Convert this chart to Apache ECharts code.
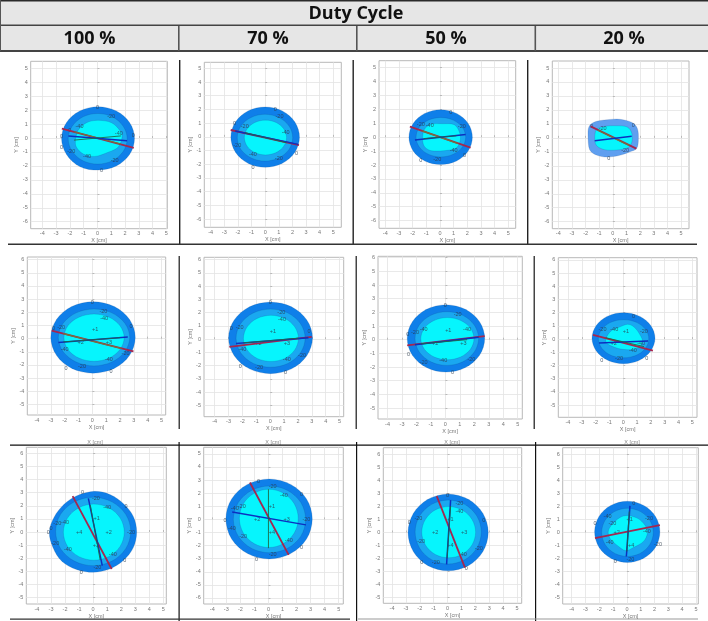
<!DOCTYPE html>
<html>
<head>
<meta charset="utf-8">
<style>
  html, body { margin: 0; padding: 0; background: #fff; }
  #main { width: 708px; height: 621px; filter: blur(0.45px); }
</style>
<script src="https://cdn.jsdelivr.net/npm/echarts@6/dist/echarts.min.js"></script>
</head>
<body>
<div id="main"></div>
<script>
const titleText = 'Duty Cycle'
const dutyLabels = ['100 %', '70 %', '50 %', '20 %']
const xTicks = [-4, -3, -2, -1, 0, 1, 2, 3, 4, 5]
const yTicksTop = [-6, -5, -4, -3, -2, -1, 0, 1, 2, 3, 4, 5]
const yTicksLow = [-5, -4, -3, -2, -1, 0, 1, 2, 3, 4, 5, 6]

// row 1
const p1Outer = [[2.69,-0.03],[2.34,1.1],[1.37,1.94],[0.05,2.24],[-1.28,1.94],[-2.25,1.1],[-2.6,-0.03],[-2.25,-1.17],[-1.28,-2.05],[0.05,-2.3],[1.37,-2],[2.34,-1.17]]
const p1Mid = [[2.16,-0.06],[1.87,0.85],[1.09,1.52],[0.02,1.76],[-1.05,1.52],[-1.83,0.85],[-2.12,-0.06],[-1.83,-0.96],[-1.05,-1.63],[0.02,-1.87],[1.09,-1.63],[1.87,-0.96]]
const p1Inner = [[-1.59,-0.17],[-1.4,0.55],[-0.79,1.1],[0.05,1.27],[1.02,1.1],[1.62,0.55],[1.79,0.07],[1.5,-0.66],[0.78,-1.02],[-0.19,-1.32],[-1.03,-1.14],[-1.52,-0.66]]
const p1Red = [[-2.58,0.67],[2.64,-0.7]]
const p1Blue = [[-2.1,0.15],[2.15,-0.2]]
const p1Green = [[-1.7,-0.15],[1.7,0.15]]
const p1Olive = [[-1.7,0.45],[1.7,-0.43]]
const p1Labels = [[0,2.2,'0'],[2.6,0.2,'0'],[-2.6,0.1,'0'],[-2.6,-0.7,'0'],[0.3,-2.3,'0'],[1,1.55,'-20'],[-1.3,0.8,'-40'],[1.55,0.35,'-40'],[-1.9,-1,'-20'],[-0.75,-1.35,'-40'],[1.25,-1.6,'-20'],[-2,0.55,'0']]

const p2Outer = [[2.52,-0.02],[2.18,1.08],[1.26,1.89],[0,2.18],[-1.26,1.89],[-2.18,1.08],[-2.52,-0.02],[-2.18,-1.12],[-1.26,-1.93],[0,-2.22],[1.26,-1.93],[2.18,-1.12]]
const p2Mid = [[2.02,-0.06],[1.75,0.8],[1,1.42],[-0.02,1.65],[-1.03,1.42],[-1.78,0.8],[-2.05,-0.06],[-1.78,-0.92],[-1.03,-1.54],[-0.02,-1.77],[1,-1.54],[1.75,-0.92]]
const p2Inner = [[1.57,-0.05],[1.36,0.59],[0.8,1.05],[0.02,1.22],[-0.76,1.05],[-1.32,0.59],[-1.53,-0.05],[-1.32,-0.69],[-0.76,-1.15],[0.02,-1.32],[0.8,-1.15],[1.36,-0.69]]
const p2Red = [[-2.53,0.5],[2.48,-0.6]]
const p2Blue = [[-2.2,0.43],[2.43,-0.55]]
const p2Green = [[-1.5,0.3],[1.57,-0.43]]
const p2Olive = []
const p2Labels = [[0.75,2,'0'],[1.05,1.45,'-20'],[-2.25,1,'0'],[-1.5,0.75,'-20'],[1.5,0.3,'-40'],[-2.05,-0.6,'-20'],[-0.9,-1.3,'-40'],[1,-1.6,'-20'],[-0.9,-2.2,'0'],[2.3,-1.2,'0']]

const p3Outer = [[2.37,0],[2.06,0.99],[1.21,1.71],[0.05,1.97],[-1.11,1.71],[-1.96,0.99],[-2.27,0],[-1.96,-0.99],[-1.11,-1.71],[0.05,-1.97],[1.21,-1.71],[2.06,-0.99]]
const p3Mid = [[1.88,0],[1.64,0.71],[0.97,1.23],[0.07,1.42],[-0.84,1.23],[-1.51,0.71],[-1.75,0],[-1.51,-0.71],[-0.84,-1.23],[0.07,-1.42],[0.97,-1.23],[1.64,-0.71]]
const p3Inner = [[-1.27,-0.1],[-1.15,0.55],[-0.65,0.93],[0.2,0.97],[1.05,0.9],[1.45,0.3],[1.47,-0.3],[1.15,-0.8],[0.3,-0.97],[-0.65,-0.97],[-1.15,-0.65]]
const p3Red = [[-2.2,0.76],[2.24,-0.75]]
const p3Blue = [[-1.83,-0.2],[1.88,0.2]]
const p3Green = [[-1.2,-0.1],[1.2,0.1]]
const p3Olive = [[-1.3,0.45],[1.3,-0.45]]
const p3Labels = [[0.8,1.8,'0'],[-1.4,0.9,'-20'],[-0.75,0.85,'-40'],[1.6,0.75,'-20'],[1,-0.95,'-40'],[-0.2,-1.6,'-20'],[-1.4,-1.7,'0'],[1.8,-1.3,'0']]

const p4Outer = [[-1.82,0.1],[-1.75,0.8],[-1.3,1.15],[-0.4,1.3],[0.5,1.33],[1.4,1.1],[1.8,0.65],[1.87,-0.1],[1.75,-0.75],[1.25,-1],[0.5,-1.25],[-0.4,-1.37],[-1.15,-1.25],[-1.7,-0.85]]
const p4Mid = []
const p4Inner = [[-1.33,0],[-1.2,0.6],[-0.6,0.82],[0.2,0.87],[1.05,0.78],[1.4,0.3],[1.38,-0.35],[1.05,-0.72],[0.3,-0.87],[-0.6,-0.85],[-1.2,-0.55]]
const p4Red = [[-1.63,0.82],[1.72,-0.77]]
const p4Blue = [[-1.33,-0.2],[1.38,0.12]]
const p4Green = []
const p4Olive = [[-1.1,0.55],[1.2,-0.55]]
const p4Labels = [[1.5,0.85,'0'],[-0.75,0.7,'-20'],[-1.55,0.8,'0'],[0.9,-0.9,'-20'],[-0.3,-1.45,'0']]

// row 2
const p5Outer = [[3.1,0.09],[2.69,1.45],[1.58,2.44],[0.05,2.8],[-1.48,2.44],[-2.59,1.45],[-3,0.09],[-2.59,-1.27],[-1.48,-2.26],[0.05,-2.62],[1.58,-2.26],[2.69,-1.27]]
const p5Mid = [[2.7,0.09],[2.35,1.17],[1.41,1.96],[0.12,2.25],[-1.17,1.96],[-2.11,1.17],[-2.46,0.09],[-2.11,-0.99],[-1.17,-1.78],[0.12,-2.07],[1.41,-1.78],[2.35,-0.99]]
const p5Inner = [[2.3,0.08],[2,0.98],[1.21,1.63],[0.12,1.87],[-0.97,1.63],[-1.77,0.98],[-2.05,0.08],[-1.77,-0.82],[-0.97,-1.48],[0.12,-1.72],[1.21,-1.48],[2,-0.82]]
const p5Red = [[-2.94,0.6],[2.97,-0.97]]
const p5Blue = [[-2.45,-0.29],[2.56,0.12]]
const p5Green = [[-2.1,-0.25],[2,0.07]]
const p5Olive = [[-2.1,0.38],[2.1,-0.75]]
const p5Labels = [[0,2.75,'0'],[0.8,2.05,'-20'],[0.85,1.55,'-40'],[-2.8,0.8,'0'],[-2.25,0.85,'-20'],[2.8,0.9,'0'],[0.2,0.7,'+1'],[-0.85,-0.3,'+2'],[1.2,-0.3,'+3'],[-2,-0.8,'-40'],[2.4,-1.1,'-20'],[1.2,-1.55,'-40'],[-0.75,-2.15,'-20'],[-1.9,-2.3,'0'],[1.35,-2.5,'0']]

const p6Outer = [[3.05,0.1],[2.64,1.45],[1.54,2.44],[0.03,2.8],[-1.49,2.44],[-2.59,1.45],[-3,0.1],[-2.59,-1.25],[-1.49,-2.24],[0.03,-2.6],[1.54,-2.24],[2.64,-1.25]]
const p6Mid = [[2.52,0.08],[2.19,1.17],[1.28,1.98],[0.03,2.27],[-1.22,1.98],[-2.13,1.17],[-2.46,0.08],[-2.13,-1.02],[-1.22,-1.83],[0.03,-2.12],[1.28,-1.83],[2.19,-1.02]]
const p6Inner = [[2.04,0.06],[1.77,0.93],[1.05,1.57],[0.06,1.8],[-0.94,1.57],[-1.66,0.93],[-1.93,0.06],[-1.66,-0.81],[-0.94,-1.45],[0.06,-1.68],[1.05,-1.45],[1.77,-0.81]]
const p6Red = [[-2.94,-0.58],[3,0.18]]
const p6Blue = [[-2.46,-0.33],[2.76,0.1]]
const p6Green = [[-1.93,-0.28],[2.04,0.08]]
const p6Olive = []
const p6Labels = [[0,2.75,'0'],[0.8,2.05,'-20'],[0.85,1.5,'-40'],[-2.8,0.8,'0'],[-2.2,0.9,'-20'],[2.8,0.6,'0'],[0.2,0.6,'+1'],[-0.85,-0.35,'+2'],[1.2,-0.35,'+3'],[-2,-0.8,'-40'],[2.3,-1.2,'-20'],[1.2,-1.55,'-40'],[-0.8,-2.15,'-20'],[-2.15,-2.05,'0'],[1.1,-2.55,'0']]

const p7Outer = [[2.72,0.09],[2.36,1.32],[1.38,2.22],[0.04,2.55],[-1.3,2.22],[-2.28,1.32],[-2.64,0.09],[-2.28,-1.14],[-1.3,-2.04],[0.04,-2.37],[1.38,-2.04],[2.36,-1.14]]
const p7Mid = [[2.3,0.09],[2,1.07],[1.2,1.79],[0.1,2.05],[-1,1.79],[-1.81,1.07],[-2.1,0.09],[-1.81,-0.9],[-1,-1.62],[0.1,-1.88],[1.2,-1.62],[2,-0.9]]
const p7Inner = [[1.98,0.08],[1.73,0.85],[1.06,1.41],[0.14,1.62],[-0.78,1.41],[-1.45,0.85],[-1.7,0.08],[-1.45,-0.7],[-0.78,-1.26],[0.14,-1.47],[1.06,-1.26],[1.73,-0.7]]
const p7Red = [[-2.64,-0.42],[2.72,0.26]]
const p7Blue = [[-2.1,-0.37],[2.3,0.18]]
const p7Green = [[-1.7,-0.3],[1.5,0]]
const p7Olive = []
const p7Labels = [[0,2.5,'0'],[0.85,1.85,'-20'],[1.5,0.75,'-40'],[-2.6,0.4,'0'],[-2.1,0.55,'-20'],[-1.5,0.75,'-40'],[0.2,0.65,'+1'],[-0.7,-0.3,'+2'],[1.25,-0.3,'+3'],[-1.5,-1.65,'-20'],[-0.15,-1.5,'-40'],[1.8,-1.45,'-20'],[-2.55,-1.1,'0'],[0.5,-2.4,'0']]

const p8Outer = [[2.3,0.07],[1.99,1.03],[1.16,1.74],[0.02,2],[-1.12,1.74],[-1.95,1.03],[-2.26,0.07],[-1.95,-0.9],[-1.12,-1.61],[0.02,-1.87],[1.16,-1.61],[1.99,-0.9]]
const p8Mid = [[1.85,0.03],[1.61,0.75],[0.94,1.28],[0.03,1.47],[-0.89,1.28],[-1.55,0.75],[-1.8,0.03],[-1.55,-0.7],[-0.89,-1.23],[0.03,-1.42],[0.94,-1.23],[1.61,-0.7]]
const p8Inner = [[-1.25,0.05],[-0.9,0.6],[-0.4,0.85],[0.3,1.12],[0.8,0.9],[1.2,0.35],[1.4,-0.2],[1.1,-0.65],[0.5,-0.8],[-0.2,-0.75],[-0.8,-0.55],[-1.2,-0.3]]
const p8Red = [[-2.19,0.31],[2.15,-0.88]]
const p8Blue = [[-1.75,-0.3],[1.8,-0.14]]
const p8Green = [[-1.27,0.1],[1.5,-0.57]]
const p8Olive = []
const p8Labels = [[0.75,1.75,'0'],[-1.5,0.75,'-20'],[-0.65,0.7,'-40'],[1.5,0.6,'-20'],[0.2,0.6,'+1'],[-0.7,-0.35,'+2'],[1.3,-0.3,'-40'],[0.7,-0.85,'-40'],[-0.3,-1.45,'-20'],[-1.55,-1.6,'0'],[1.7,-1.5,'0']]

// row 3
const p9Outer = [[3.1,0],[2.86,1.19],[2.16,2.16],[1.19,2.86],[0.1,3.1],[-1.15,2.77],[-2.09,2.09],[-2.77,1.15],[-3.12,0],[-2.86,-1.19],[-2.23,-2.23],[-1.19,-2.86],[0,-3.07],[1.17,-2.82],[2.16,-2.16],[2.86,-1.19]]
const p9Mid = [[2.68,0.04],[2.32,1.35],[1.34,2.3],[0,2.65],[-1.34,2.3],[-2.32,1.35],[-2.67,0.04],[-2.32,-1.27],[-1.34,-2.22],[0,-2.57],[1.34,-2.22],[2.32,-1.27]]
const p9Inner = [[2.22,-0.01],[1.93,1.06],[1.14,1.84],[0.05,2.13],[-1.04,1.84],[-1.83,1.06],[-2.12,-0.01],[-1.83,-1.08],[-1.04,-1.86],[0.05,-2.15],[1.14,-1.86],[1.93,-1.08]]
const p9Red = [[-1.46,2.74],[1.32,-2.82]]
const p9Blue = [[-0.34,2.57],[0.65,-2.57]]
const p9Green = [[-0.2,2.05],[0.5,-2.13]]
const p9Olive = []
const p9Labels = [[-0.75,3,'0'],[0.2,2.55,'-20'],[1,1.85,'-40'],[2.35,1.95,'0'],[0.25,1,'+1'],[-1,0,'+4'],[1.1,0,'+2'],[-2.55,0.65,'-20'],[-2,0.75,'-40'],[-3,0.3,'0'],[-3.2,0,'0'],[2.7,0,'-20'],[-1.8,-1.3,'-40'],[-2.7,-0.9,'-20'],[0.2,-1,'+3'],[1.4,-1.7,'-40'],[0.3,-2.7,'-20'],[2.25,-2.2,'0'],[-0.85,-3.1,'0']]

const p10Outer = [[3.12,0.03],[2.71,1.56],[1.58,2.67],[0.05,3.08],[-1.49,2.67],[-2.62,1.56],[-3.03,0.03],[-2.62,-1.5],[-1.49,-2.61],[0.05,-3.02],[1.58,-2.61],[2.71,-1.5]]
const p10Mid = [[2.65,0],[2.31,1.28],[1.36,2.21],[0.08,2.55],[-1.21,2.21],[-2.15,1.28],[-2.5,0],[-2.15,-1.28],[-1.21,-2.21],[0.08,-2.55],[1.36,-2.21],[2.31,-1.28]]
const p10Inner = [[2.12,0.08],[1.84,1.19],[1.07,2],[0.03,2.3],[-1.02,2],[-1.79,1.19],[-2.07,0.08],[-1.79,-1.04],[-1.02,-1.85],[0.03,-2.15],[1.07,-1.85],[1.84,-1.04]]
const p10Red = [[-1.32,2.81],[1.44,-2.71]]
const p10Blue = [[-2.58,0.57],[2.67,-0.42]]
const p10Green = [[0,2.3],[0,-2.2]]
const p10Olive = []
const p10Labels = [[-0.7,2.9,'0'],[0.3,2.5,'-20'],[1.1,1.8,'-40'],[2.35,1.9,'0'],[-1.9,1,'-20'],[-2.4,0.85,'-40'],[0.25,1,'+1'],[-0.8,0,'+2'],[1.3,0,'+3'],[-3.1,-0.1,'0'],[2.7,0,'-20'],[-2.6,-0.7,'-40'],[-1.8,-1.3,'-20'],[0.25,-1,'+4'],[1.45,-1.65,'-40'],[0.3,-2.7,'-20'],[2.35,-2.15,'0'],[-0.85,-3.05,'0']]

const p11Outer = [[2.93,0],[2.54,1.48],[1.49,2.56],[0.04,2.96],[-1.41,2.56],[-2.46,1.48],[-2.85,0],[-2.46,-1.48],[-1.41,-2.56],[0.04,-2.95],[1.49,-2.56],[2.54,-1.48]]
const p11Mid = [[2.43,0.04],[2.11,1.27],[1.24,2.17],[0.05,2.5],[-1.15,2.17],[-2.02,1.27],[-2.34,0.04],[-2.02,-1.2],[-1.15,-2.1],[0.05,-2.43],[1.24,-2.1],[2.11,-1.2]]
const p11Inner = [[2.02,0.03],[1.76,1.01],[1.05,1.74],[0.08,2],[-0.89,1.74],[-1.6,1.01],[-1.86,0.03],[-1.6,-0.96],[-0.89,-1.69],[0.08,-1.95],[1.05,-1.69],[1.76,-0.96]]
const p11Red = [[-0.78,2.81],[1.25,-2.71]]
const p11Blue = [[0.22,2.5],[-0.07,-2.46]]
const p11Green = [[0.22,2.04],[-0.04,-2]]
const p11Olive = []
const p11Labels = [[0,2.85,'0'],[0.85,2.2,'-20'],[0.85,1.65,'-40'],[2.6,0.9,'0'],[-2.1,1.05,'-20'],[-2.75,0.75,'0'],[0.2,1,'+1'],[-0.9,0,'+2'],[1.2,0,'+3'],[-1.9,-0.7,'-20'],[2.25,-1.2,'-20'],[0.2,-1,'+4'],[1.1,-1.7,'-40'],[-0.85,-2.35,'-20'],[-1.85,-2.3,'0'],[1.35,-2.75,'0']]

const p12Outer = [[2.39,0.04],[2.07,1.22],[1.21,2.07],[0.03,2.39],[-1.16,2.07],[-2.02,1.22],[-2.34,0.04],[-2.02,-1.14],[-1.16,-1.99],[0.03,-2.31],[1.21,-1.99],[2.07,-1.14]]
const p12Mid = [[1.91,0],[1.66,0.93],[0.98,1.6],[0.04,1.85],[-0.9,1.6],[-1.58,0.93],[-1.83,0],[-1.58,-0.93],[-0.9,-1.6],[0.04,-1.85],[0.98,-1.6],[1.66,-0.93]]
const p12Inner = [[-1.35,0.1],[-1,0.7],[-0.4,1.2],[0.2,1.27],[0.9,1],[1.4,0.4],[1.48,-0.1],[1.2,-0.7],[0.5,-1.15],[-0.1,-1.4],[-0.7,-1],[-1.2,-0.5]]
const p12Red = [[-2.31,-0.45],[2.39,0.55]]
const p12Blue = [[0.22,2.03],[-0.04,-1.85]]
const p12Green = [[0.17,1.6],[0,-1.47]]
const p12Olive = []
const p12Labels = [[0.5,2.25,'0'],[-1.4,1.2,'-40'],[-1.05,0.7,'-20'],[1.6,1.05,'-20'],[0.2,1,'+1'],[-0.75,0,'+2'],[1.45,0.05,'-40'],[-1.25,-0.75,'-40'],[2.25,-0.95,'-20'],[0.3,-1,'+4'],[0.25,-2.05,'-20'],[-0.85,-2.25,'0'],[-2.3,0.7,'0']]

// plot boxes in px and the axis range each one shows
const boxes = [
  { l: 30.7, t: 61.3, w: 136.6, h: 167.4, x: [-4.84, 5.07], y: [-6.5, 5.5], yTicks: yTicksTop },
  { l: 204.3, t: 62.3, w: 137, h: 165, x: [-4.47, 5.59], y: [-6.6, 5.44], yTicks: yTicksTop },
  { l: 379, t: 60.7, w: 136.7, h: 167.6, x: [-4.46, 5.54], y: [-6.55, 5.5], yTicks: yTicksTop },
  { l: 552.3, t: 61, w: 136.7, h: 167.7, x: [-4.44, 5.58], y: [-6.5, 5.5], yTicks: yTicksTop },
  { l: 27.3, t: 257, w: 138.4, h: 158, x: [-4.7, 5.3], y: [-5.8, 6.2], yTicks: yTicksLow },
  { l: 204, t: 257.3, w: 139.7, h: 159.4, x: [-4.77, 5.3], y: [-5.85, 6.18], yTicks: yTicksLow },
  { l: 378, t: 256.3, w: 144.3, h: 162.7, x: [-4.66, 5.32], y: [-5.8, 6.1], yTicks: yTicksLow },
  { l: 558.3, t: 257.7, w: 138.7, h: 159.6, x: [-4.7, 5.34], y: [-5.93, 6.17], yTicks: yTicksLow },
  { l: 26.3, t: 447.3, w: 140, h: 156.7, x: [-4.76, 5.21], y: [-5.49, 6.46], yTicks: yTicksLow },
  { l: 203.7, t: 447.3, w: 139.6, h: 156.7, x: [-4.61, 5.33], y: [-6.46, 5.5], yTicks: yTicksTop },
  { l: 383.3, t: 447.7, w: 138.4, h: 155.6, x: [-4.63, 5.34], y: [-5.46, 6.54], yTicks: yTicksLow },
  { l: 562.7, t: 447.7, w: 135.6, h: 156.3, x: [-4.65, 5.17], y: [-5.5, 6.5], yTicks: yTicksLow },
]

const panels = [
  [p1Outer, p1Mid, p1Inner, p1Red, p1Blue, p1Green, p1Olive, p1Labels],
  [p2Outer, p2Mid, p2Inner, p2Red, p2Blue, p2Green, p2Olive, p2Labels],
  [p3Outer, p3Mid, p3Inner, p3Red, p3Blue, p3Green, p3Olive, p3Labels],
  [p4Outer, p4Mid, p4Inner, p4Red, p4Blue, p4Green, p4Olive, p4Labels],
  [p5Outer, p5Mid, p5Inner, p5Red, p5Blue, p5Green, p5Olive, p5Labels],
  [p6Outer, p6Mid, p6Inner, p6Red, p6Blue, p6Green, p6Olive, p6Labels],
  [p7Outer, p7Mid, p7Inner, p7Red, p7Blue, p7Green, p7Olive, p7Labels],
  [p8Outer, p8Mid, p8Inner, p8Red, p8Blue, p8Green, p8Olive, p8Labels],
  [p9Outer, p9Mid, p9Inner, p9Red, p9Blue, p9Green, p9Olive, p9Labels],
  [p10Outer, p10Mid, p10Inner, p10Red, p10Blue, p10Green, p10Olive, p10Labels],
  [p11Outer, p11Mid, p11Inner, p11Red, p11Blue, p11Green, p11Olive, p11Labels],
  [p12Outer, p12Mid, p12Inner, p12Red, p12Blue, p12Green, p12Olive, p12Labels],
]

// rounds the outline between the read points (catmull-rom, pixel space, drawing only)
function roundRing(pts) {
  const n = pts.length
  let out = []
  for (let i = 0; i < n; i++) {
    const a = pts[(i - 1 + n) % n], b = pts[i], c = pts[(i + 1) % n], d = pts[(i + 2) % n]
    for (let k = 0; k < 4; k++) {
      const t = k / 4, t2 = t * t, t3 = t2 * t
      out.push([0, 1].map((j) => 0.5 * (2 * b[j] + (c[j] - a[j]) * t +
        (2 * a[j] - 5 * b[j] + 4 * c[j] - d[j]) * t2 + (3 * b[j] - a[j] - 3 * c[j] + d[j]) * t3)))
    }
  }
  return out
}

function contourSeries(i, pts, fill) {
  return {
    type: 'custom',
    xAxisIndex: i,
    yAxisIndex: i,
    silent: true,
    clip: false,
    data: pts,
    renderItem: function (params, api) {
      if (params.dataIndex > 0) return
      return {
        type: 'polygon',
        shape: { points: roundRing(pts.map((p) => api.coord(p))) },
        style: { fill: fill, stroke: 'rgba(10,50,110,.3)', lineWidth: 0.5 },
      }
    },
  }
}

function lineSeries(i, pts, color, width) {
  return {
    type: 'line',
    xAxisIndex: i,
    yAxisIndex: i,
    silent: true,
    symbol: 'none',
    data: pts,
    lineStyle: { color: color, width: width },
  }
}

function labelSeries(i, pts) {
  return {
    type: 'scatter',
    xAxisIndex: i,
    yAxisIndex: i,
    silent: true,
    symbolSize: 0,
    data: pts,
    label: {
      show: true,
      position: 'inside',
      fontFamily: 'Liberation Sans',
      fontSize: 5.5,
      color: '#2a3a4a',
      formatter: (p) => p.value[2],
    },
  }
}

let grids = []
let xAxes = []
let yAxes = []
let series = []

boxes.forEach((b, i) => {
  const tickFont = { fontSize: 5.5, color: '#777', fontFamily: 'Liberation Sans' }
  const gridLine = { lineStyle: { color: '#e3e3e3', width: 0.8 } }
  grids.push({
    left: b.l, top: b.t, width: b.w, height: b.h,
    show: true, backgroundColor: '#fff', borderColor: '#b8b8b8', borderWidth: 1,
  })
  xAxes.push({
    type: 'value', gridIndex: i, min: b.x[0], max: b.x[1],
    name: 'X [cm]', nameLocation: 'middle', nameGap: 9, nameMoveOverlap: false, nameTextStyle: tickFont,
    axisLine: { show: false },
    axisTick: { show: true, inside: true, length: 2, customValues: xTicks, lineStyle: { color: '#999', width: 0.6 } },
    axisLabel: { margin: 2, customValues: xTicks, ...tickFont },
    splitLine: { show: true, customValues: xTicks, ...gridLine },
  })
  yAxes.push({
    type: 'value', gridIndex: i, min: b.y[0], max: b.y[1],
    name: 'Y [cm]', nameLocation: 'middle', nameGap: 11, nameMoveOverlap: false, nameTextStyle: tickFont,
    axisLine: { show: false },
    axisTick: { show: true, inside: true, length: 2, customValues: b.yTicks, lineStyle: { color: '#999', width: 0.6 } },
    axisLabel: { margin: 3, customValues: b.yTicks, ...tickFont },
    splitLine: { show: true, customValues: b.yTicks, ...gridLine },
  })

  const [outer, mid, inner, red, blue, green, olive, labels] = panels[i]
  // the 20 % panel of the first row has a paler outer band
  series.push(contourSeries(i, outer, i === 3 ? '#5f9ff0' : '#0f7fe9'))
  if (mid.length) series.push(contourSeries(i, mid, '#1aa8f0'))
  series.push(contourSeries(i, inner, '#06f5fd'))
  series.push(lineSeries(i, red, '#a5274f', 1.8))
  if (olive.length) series.push(lineSeries(i, olive, '#6f7a3c', 1.2))
  series.push(lineSeries(i, blue, '#0c2fc0', 1.5))
  if (green.length) series.push(lineSeries(i, green, '#1d6a44', 0.9))
  series.push(labelSeries(i, labels))
})

function rect(x, y, w, h, fill) {
  return { type: 'rect', shape: { x: x, y: y, width: w, height: h }, style: { fill: fill }, silent: true }
}

function headText(text, x, y, size) {
  return {
    type: 'text', x: x, y: y, silent: true,
    style: {
      text: text, fontFamily: 'Open Sans', fontWeight: 700, fontSize: size,
      fill: '#111', textAlign: 'center', textVerticalAlign: 'middle',
    },
  }
}

function cutText(x) {
  return {
    type: 'text', x: x, y: 442.5, silent: true,
    style: { text: 'X [cm]', fontFamily: 'Liberation Sans', fontSize: 5.5, fill: '#888', textAlign: 'center', textVerticalAlign: 'middle' },
  }
}

const graphics = [
  // header bands
  rect(0, 0, 708, 51, '#e6e6e6'),
  rect(0, 0, 708, 1.5, '#2a2a2a'),
  rect(0, 24.5, 708, 1.5, '#444'),
  rect(0, 50, 708, 2, '#444'),
  rect(0, 0, 1, 51, '#555'),
  rect(178, 26, 1.6, 25, '#555'),
  rect(356, 26, 1.6, 25, '#555'),
  rect(534.5, 26, 1.6, 25, '#555'),
  headText(titleText, 356, 13.5, 18),
  headText(dutyLabels[0], 89.5, 39, 18),
  headText(dutyLabels[1], 268, 39, 18),
  headText(dutyLabels[2], 446, 39, 18),
  headText(dutyLabels[3], 624, 39, 18),
  // body rules
  rect(179, 60, 1.4, 184, '#222'),
  rect(352.5, 60, 1.4, 184, '#222'),
  rect(527, 60, 1.4, 184, '#222'),
  rect(8, 243.5, 689, 1.4, '#333'),
  rect(178.5, 256, 1.5, 173, '#444'),
  rect(355.5, 256, 1.5, 173, '#444'),
  rect(533.5, 256, 1.5, 173, '#444'),
  cutText(95), cutText(273), cutText(452), cutText(632),
  rect(10, 444.5, 698, 1.2, '#111'),
  rect(178.5, 442, 1.2, 179, '#111'),
  rect(356, 442, 1.2, 179, '#111'),
  rect(535, 442, 1.2, 179, '#111'),
  rect(10, 618.5, 340, 1.2, '#333'),
  rect(358, 618.5, 340, 1, '#999'),
]

const myChart = echarts.init(document.getElementById('main'))
myChart.setOption({
  animation: false,
  backgroundColor: '#fff',
  grid: grids,
  xAxis: xAxes,
  yAxis: yAxes,
  series: series,
  graphic: graphics,
})
</script>
</body>
</html>
